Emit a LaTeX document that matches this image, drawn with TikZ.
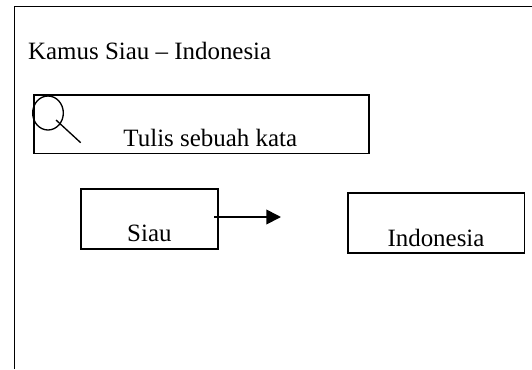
\documentclass[tikz,border=0pt]{standalone}
\usepackage{fontspec}
\setmainfont{Liberation Serif}
\usetikzlibrary{arrows.meta,shapes.geometric}

\begin{document}
\begin{tikzpicture}[x=0.75pt,y=0.75pt]
\tikzset{box/.style={draw=black,line width=1.2pt,inner sep=0pt},
  rule/.style={draw=black,line width=1pt},
  word/.style={inner sep=0pt,font=\fontsize{18.7}{22}\selectfont,anchor=base}}
\useasboundingbox (0,0) rectangle (532,-369);
\coordinate (framebottom) at (14.5,-369);
\coordinate (framecorner) at (14.5,-6.5);
\coordinate (frameright) at (532,-6.5);
\draw [rule,line width=1.2pt] (framebottom) -- (framecorner) -- (frameright);
\node [word] (title) at (149.7,-59.3) {Kamus Siau -- Indonesia};
\node [box,minimum width=251.5pt,minimum height=44pt] (search) at (201.5,-124.3) {};
\node [word] (searchtext) at (210.3,-146.7) {Tulis sebuah kata};
\node [draw=black,line width=1pt,ellipse,inner sep=0pt,minimum width=23pt,minimum height=25.5pt] (lens) at (48,-113) {};
\coordinate (handlestart) at (56,-120);
\coordinate (handleend) at (80.7,-142.7);
\draw [rule] (handlestart) -- (handleend);
\node [box,minimum width=102.9pt,minimum height=45.4pt] (siau) at (149.4,-219) {};
\node [word] (siautext) at (149.4,-241.7) {Siau};
\node [box,minimum width=132.5pt,minimum height=45.4pt] (indonesia) at (436.3,-223) {};
\node [word] (indonesiatext) at (436,-246.5) {Indonesia};
\coordinate (arrowstart) at (214,-217);
\coordinate (arrowend) at (281,-217);
\draw [rule,line width=1.3pt,-{Triangle[length=11pt,width=11pt]}] (arrowstart) -- (arrowend);
\end{tikzpicture}
\end{document}
